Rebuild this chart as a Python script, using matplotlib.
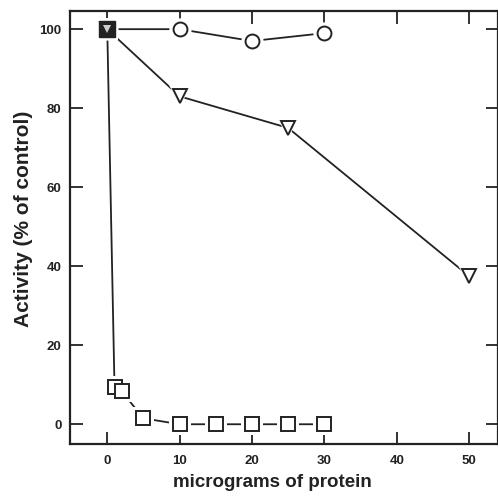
import matplotlib
matplotlib.use("Agg")
import matplotlib.pyplot as plt

plt.rcParams['font.family'] = ['Liberation Sans', 'DejaVu Sans']
plt.rcParams['font.weight'] = 'bold'

circle_x = [0, 10, 20, 30]
circle_y = [100, 100, 97, 99]
tri_x = [0, 10, 25, 50]
tri_y = [100, 83, 75, 37.5]
sq_x = [0, 1, 2, 5, 10, 15, 20, 25, 30]
sq_y = [100, 9.5, 8.3, 1.5, 0, 0, 0, 0, 0]
xticks = [0, 10, 20, 30, 40, 50]
yticks = [0, 20, 40, 60, 80, 100]

fig = plt.figure(figsize=(4.98, 4.96), dpi=100)
ax = fig.add_axes([70/498, 1-444/496, 428/498, 433/496])
ax.set_xlim(-5.15, 54.0)
ax.set_ylim(-5.0, 104.6)

ink = '#222222'

def series(x, y, marker, ms):
    ax.plot(x, y, '-', color=ink, lw=1.3, zorder=1)
    ax.plot(x, y, linestyle='none', marker=marker, ms=ms + 6, mfc='white', mec='white', mew=0, zorder=2)
    ax.plot(x, y, linestyle='none', marker=marker, ms=ms, mfc='white', mec=ink, mew=1.4, zorder=3)

series(circle_x, circle_y, 'o', 10)
series(sq_x, sq_y, 's', 10.5)
series(tri_x, tri_y, 'v', 10)
# overlapping start point appears dark
ax.plot(sq_x[:1], sq_y[:1], linestyle='none', marker='s', ms=11, mfc=ink, mec=ink, zorder=4)
ax.plot(tri_x[:1], tri_y[:1], linestyle='none', marker='v', ms=6, mfc='#cccccc', mec='#cccccc', mew=0, zorder=5)

ax.set_xticks(xticks)
ax.set_yticks(yticks)
ax.tick_params(direction='in', length=9, width=1.3, colors=ink, labelsize=9.5,
               top=True, right=True)
ax.tick_params(axis='x', pad=8)
ax.tick_params(axis='y', pad=6)
for lab in ax.get_xticklabels() + ax.get_yticklabels():
    lab.set_fontweight('bold')
for s in ax.spines.values():
    s.set_linewidth(1.6)
    s.set_color(ink)

ax.set_xlabel('micrograms of protein', fontsize=13.5, fontweight='bold', color=ink, labelpad=5, x=0.473)
ax.set_ylabel('Activity (% of control)', fontsize=15, fontweight='bold', color=ink, labelpad=5, y=0.52)

fig.savefig('out.png', dpi=100)
